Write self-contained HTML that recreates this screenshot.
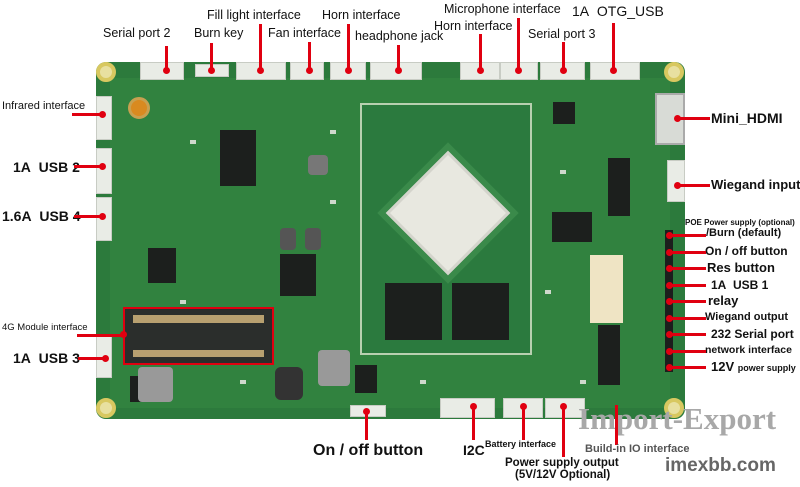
<!DOCTYPE html>
<html><head><meta charset="utf-8"><style>
*{margin:0;padding:0;box-sizing:border-box}
body{width:800px;height:487px;background:#fff;position:relative;overflow:hidden;font-family:"Liberation Sans",sans-serif;color:#111}
.a{position:absolute}
.t{position:absolute;white-space:nowrap;font-size:12.5px;line-height:1}
.b{font-weight:bold;font-size:14px}
.v{position:absolute;width:3px;background:#e00010}
.h{position:absolute;height:3px;background:#e00010}
.d{position:absolute;width:7px;height:7px;border-radius:50%;background:#e00010}
.c{position:absolute;background:#e9ece6;border:1px solid #c8ccc4}
.k{position:absolute;background:#1c1f1d}
.s{position:absolute;background:#cfd8cc;width:6px;height:4px}
.hole{position:absolute;width:20px;height:20px;border-radius:50%;background:#e8e0a0;border:4px solid #d8c860}
</style></head><body>
<!-- board -->
<div class="a" style="left:96px;top:62px;width:589px;height:357px;background:#2c7a3c;border-radius:10px"></div>
<div class="a" style="left:110px;top:78px;width:560px;height:330px;background:#31823f"></div>
<div class="hole" style="left:96px;top:62px"></div>
<div class="hole" style="left:664px;top:62px"></div>
<div class="hole" style="left:96px;top:398px"></div>
<div class="hole" style="left:664px;top:398px"></div>
<!-- core frame -->
<div class="a" style="left:360px;top:103px;width:172px;height:252px;border:2px solid #b8d0b0;background:#2b7a3e"></div>
<!-- SoC -->
<div class="a" style="left:398px;top:163px;width:100px;height:100px;transform:rotate(45deg);background:#3a8a4a"></div>
<div class="a" style="left:404px;top:169px;width:88px;height:88px;transform:rotate(45deg);background:#e8e8e0;border:3px solid #d4d4cc"></div>
<div class="k" style="left:385px;top:283px;width:57px;height:57px"></div>
<div class="k" style="left:452px;top:283px;width:57px;height:57px"></div>
<!-- misc chips -->
<div class="k" style="left:220px;top:130px;width:36px;height:56px"></div>
<div class="k" style="left:280px;top:254px;width:36px;height:42px"></div>
<div class="k" style="left:148px;top:248px;width:28px;height:35px"></div>
<div class="k" style="left:553px;top:102px;width:22px;height:22px"></div>
<div class="k" style="left:608px;top:158px;width:22px;height:58px"></div>
<div class="k" style="left:552px;top:212px;width:40px;height:30px"></div>
<div class="k" style="left:598px;top:325px;width:22px;height:60px"></div>
<div class="k" style="left:130px;top:376px;width:22px;height:26px"></div>
<div class="k" style="left:355px;top:365px;width:22px;height:28px"></div>
<div class="k" style="left:282px;top:280px;width:0;height:0"></div>
<div class="a" style="left:138px;top:367px;width:35px;height:35px;background:#999;border-radius:4px"></div>
<div class="a" style="left:318px;top:350px;width:32px;height:36px;background:#999;border-radius:4px"></div>
<div class="a" style="left:275px;top:367px;width:28px;height:33px;background:#333;border-radius:6px"></div>
<div class="a" style="left:308px;top:155px;width:20px;height:20px;background:#777;border-radius:4px"></div>
<div class="a" style="left:280px;top:228px;width:16px;height:22px;background:#555;border-radius:4px"></div>
<div class="a" style="left:305px;top:228px;width:16px;height:22px;background:#555;border-radius:4px"></div>
<div class="a" style="left:128px;top:97px;width:22px;height:22px;border-radius:50%;background:#d98a20;border:3px solid #c8a050"></div>
<div class="a" style="left:590px;top:255px;width:33px;height:68px;background:#efe4c4"></div>
<div class="k" style="left:665px;top:230px;width:8px;height:142px"></div>
<div class="a" style="left:655px;top:93px;width:30px;height:52px;background:#d8dbd6;border:2px solid #aaa"></div>
<div class="s" style="left:190px;top:140px"></div><div class="s" style="left:330px;top:130px"></div><div class="s" style="left:180px;top:300px"></div>
<div class="s" style="left:560px;top:170px"></div><div class="s" style="left:545px;top:290px"></div><div class="s" style="left:420px;top:380px"></div>
<div class="s" style="left:240px;top:380px"></div><div class="s" style="left:330px;top:200px"></div><div class="s" style="left:580px;top:380px"></div>
<!-- 4G module -->
<div class="a" style="left:123px;top:307px;width:151px;height:58px;border:2px solid #e00010;background:#2b2e2c"></div>
<div class="a" style="left:133px;top:315px;width:131px;height:8px;background:#b8a070"></div>
<div class="a" style="left:133px;top:350px;width:131px;height:7px;background:#b8a070"></div>
<!-- connectors top -->
<div class="c" style="left:140px;top:62px;width:44px;height:18px"></div>
<div class="c" style="left:195px;top:64px;width:34px;height:13px"></div>
<div class="c" style="left:236px;top:62px;width:50px;height:18px"></div>
<div class="c" style="left:290px;top:62px;width:34px;height:18px"></div>
<div class="c" style="left:330px;top:62px;width:36px;height:18px"></div>
<div class="c" style="left:370px;top:62px;width:52px;height:18px"></div>
<div class="c" style="left:460px;top:62px;width:40px;height:18px"></div>
<div class="c" style="left:500px;top:62px;width:38px;height:18px"></div>
<div class="c" style="left:540px;top:62px;width:45px;height:18px"></div>
<div class="c" style="left:590px;top:62px;width:50px;height:18px"></div>
<!-- left connectors -->
<div class="c" style="left:96px;top:96px;width:16px;height:44px"></div>
<div class="c" style="left:96px;top:148px;width:16px;height:46px"></div>
<div class="c" style="left:96px;top:197px;width:16px;height:44px"></div>
<div class="c" style="left:96px;top:336px;width:16px;height:42px"></div>
<div class="c" style="left:667px;top:160px;width:18px;height:42px"></div>
<!-- bottom connectors -->
<div class="c" style="left:440px;top:398px;width:55px;height:20px"></div>
<div class="c" style="left:503px;top:398px;width:40px;height:20px"></div>
<div class="c" style="left:545px;top:398px;width:40px;height:20px"></div>
<div class="c" style="left:350px;top:405px;width:36px;height:12px"></div>

<!-- top labels -->
<div class="t" style="left:103px;top:27px">Serial port 2</div><div class="v" style="left:165px;top:46px;height:25px"></div><div class="d" style="left:163px;top:67px"></div>
<div class="t" style="left:194px;top:27px">Burn key</div><div class="v" style="left:210px;top:43px;height:28px"></div><div class="d" style="left:208px;top:67px"></div>
<div class="t" style="left:207px;top:9px">Fill light interface</div><div class="v" style="left:259px;top:24px;height:47px"></div><div class="d" style="left:257px;top:67px"></div>
<div class="t" style="left:268px;top:27px">Fan interface</div><div class="v" style="left:308px;top:42px;height:29px"></div><div class="d" style="left:306px;top:67px"></div>
<div class="t" style="left:322px;top:9px">Horn interface</div><div class="v" style="left:347px;top:24px;height:47px"></div><div class="d" style="left:345px;top:67px"></div>
<div class="t" style="left:355px;top:30px">headphone jack</div><div class="v" style="left:397px;top:45px;height:26px"></div><div class="d" style="left:395px;top:67px"></div>
<div class="t" style="left:444px;top:3px">Microphone interface</div><div class="v" style="left:517px;top:18px;height:53px"></div><div class="d" style="left:515px;top:67px"></div>
<div class="t" style="left:434px;top:20px">Horn interface</div><div class="v" style="left:479px;top:34px;height:37px"></div><div class="d" style="left:477px;top:67px"></div>
<div class="t" style="left:572px;top:4px;font-size:14px">1A&nbsp; OTG_USB</div><div class="v" style="left:612px;top:23px;height:48px"></div><div class="d" style="left:610px;top:67px"></div>
<div class="t" style="left:528px;top:28px">Serial port 3</div><div class="v" style="left:562px;top:42px;height:29px"></div><div class="d" style="left:560px;top:67px"></div>

<!-- left labels -->
<div class="t" style="left:2px;top:101px;font-size:11px">Infrared interface</div><div class="h" style="left:72px;top:113px;width:30px"></div><div class="d" style="left:99px;top:111px"></div>
<div class="t b" style="left:13px;top:160px">1A&nbsp; USB 2</div><div class="h" style="left:74px;top:165px;width:28px"></div><div class="d" style="left:99px;top:163px"></div>
<div class="t b" style="left:2px;top:209px">1.6A&nbsp; USB 4</div><div class="h" style="left:74px;top:215px;width:28px"></div><div class="d" style="left:99px;top:213px"></div>
<div class="t" style="left:2px;top:323px;font-size:9.5px">4G Module interface</div><div class="h" style="left:77px;top:334px;width:46px"></div><div class="d" style="left:120px;top:331px"></div>
<div class="t b" style="left:13px;top:351px">1A&nbsp; USB 3</div><div class="h" style="left:78px;top:357px;width:27px"></div><div class="d" style="left:102px;top:355px"></div>

<!-- right labels -->
<div class="t b" style="left:711px;top:111px">Mini_HDMI</div><div class="h" style="left:677px;top:117px;width:33px"></div><div class="d" style="left:674px;top:115px"></div>
<div class="t" style="left:711px;top:178px;font-size:13px;font-weight:bold">Wiegand input</div><div class="h" style="left:677px;top:184px;width:33px"></div><div class="d" style="left:674px;top:182px"></div>
<div class="t" style="left:685px;top:219px;font-size:8px;font-weight:bold">POE Power supply (optional)</div>
<div class="t" style="left:706px;top:228px;font-size:11px;font-weight:bold">/Burn (default)</div>
<div class="t" style="left:705px;top:245px;font-size:12px;font-weight:bold">On / off button</div>
<div class="t" style="left:707px;top:261px;font-size:13px;font-weight:bold">Res button</div>
<div class="t" style="left:711px;top:279px;font-size:12px;font-weight:bold">1A&nbsp; USB 1</div>
<div class="t" style="left:708px;top:294px;font-size:13px;font-weight:bold">relay</div>
<div class="t" style="left:705px;top:312px;font-size:11px;font-weight:bold">Wiegand output</div>
<div class="t" style="left:711px;top:328px;font-size:12px;font-weight:bold">232 Serial port</div>
<div class="t" style="left:705px;top:345px;font-size:10.5px;font-weight:bold">network interface</div>
<div class="t" style="left:711px;top:360px;font-size:13px;font-weight:bold">12V <span style="font-size:9px">power supply</span></div>
<div class="h" style="left:669px;top:234px;width:37px"></div><div class="d" style="left:666px;top:232px"></div>
<div class="h" style="left:669px;top:251px;width:37px"></div><div class="d" style="left:666px;top:249px"></div>
<div class="h" style="left:669px;top:267px;width:37px"></div><div class="d" style="left:666px;top:265px"></div>
<div class="h" style="left:669px;top:284px;width:37px"></div><div class="d" style="left:666px;top:282px"></div>
<div class="h" style="left:669px;top:300px;width:37px"></div><div class="d" style="left:666px;top:298px"></div>
<div class="h" style="left:669px;top:317px;width:37px"></div><div class="d" style="left:666px;top:315px"></div>
<div class="h" style="left:669px;top:333px;width:37px"></div><div class="d" style="left:666px;top:331px"></div>
<div class="h" style="left:669px;top:350px;width:37px"></div><div class="d" style="left:666px;top:348px"></div>
<div class="h" style="left:669px;top:366px;width:37px"></div><div class="d" style="left:666px;top:364px"></div>

<!-- bottom labels -->
<div class="v" style="left:365px;top:410px;height:30px"></div><div class="d" style="left:363px;top:408px"></div>
<div class="t" style="left:313px;top:443px;font-size:16px;font-weight:bold">On / off button</div>
<div class="v" style="left:472px;top:405px;height:35px"></div><div class="d" style="left:470px;top:403px"></div>
<div class="t" style="left:463px;top:443px;font-size:14px;font-weight:bold">I2C</div>
<div class="v" style="left:522px;top:405px;height:35px"></div><div class="d" style="left:520px;top:403px"></div>
<div class="t" style="left:485px;top:440px;font-size:9px;font-weight:bold">Battery interface</div>
<div class="v" style="left:562px;top:405px;height:52px"></div><div class="d" style="left:560px;top:403px"></div>
<div class="t" style="left:505px;top:458px;font-size:11.5px;font-weight:bold">Power supply output</div>
<div class="t" style="left:515px;top:470px;font-size:11.5px;font-weight:bold">(5V/12V Optional)</div>
<!-- watermark -->
<div class="t" style="left:578px;top:403px;font-size:31px;font-weight:bold;font-family:'Liberation Serif',serif;color:#a8a8a8">Import-Export</div>
<div class="v" style="left:615px;top:405px;height:40px"></div>
<div class="t" style="left:585px;top:444px;font-size:11px;font-weight:bold;color:#555">Build-in IO interface</div>
<div class="t" style="left:665px;top:456px;font-size:19px;font-weight:bold;color:#666">imexbb.com</div>
</body></html>
